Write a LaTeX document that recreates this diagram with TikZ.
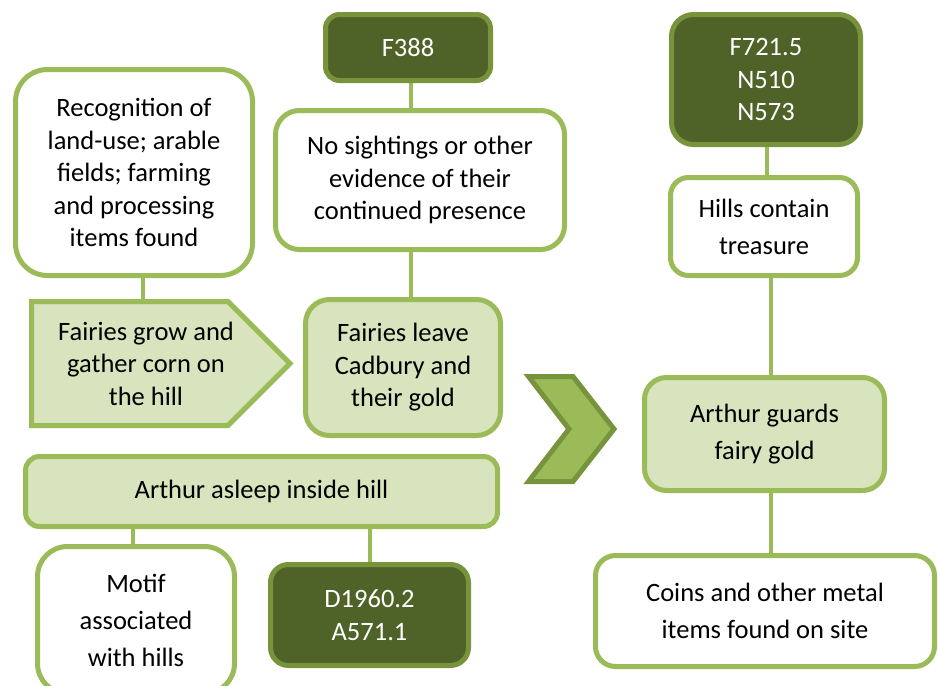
\documentclass[tikz,border=0pt]{standalone}
\usepackage{fontspec}
\setmainfont{Carlito}
\definecolor{lgfill}{HTML}{D7E4BD}
\definecolor{lgline}{HTML}{9BBB59}
\definecolor{dkfill}{HTML}{4F6228}
\definecolor{dkline}{HTML}{77933C}
\pgfdeclarelayer{bg}
\pgfdeclarelayer{paper}
\pgfsetlayers{paper,bg,main}
\begin{document}
\begin{tikzpicture}[x=1pt,y=-1pt,
  base/.style={line width=5pt, align=center, inner sep=2pt, font=\fontsize{26.5}{32.5}\selectfont},
  whitebox/.style={base, draw=lgline, fill=white},
  lightbox/.style={base, draw=lgline, fill=lgfill},
  darkbox/.style={base, draw=dkline, fill=dkfill, text=white},
  wide/.style={font=\fontsize{26.5}{37}\selectfont},
  conn/.style={draw=lgline, line width=4pt, shorten <=-3pt, shorten >=-3pt}
]
\begin{pgfonlayer}{paper}
\fill[white] (0,0) rectangle (938,686);
\end{pgfonlayer}
\useasboundingbox (0,0) rectangle (938,686);

% left column
\node[whitebox, minimum width=237pt, minimum height=206pt, rounded corners=32pt] (rec) at (134,172.5)
  {Recognition of\\land-use; arable\\fields; farming\\and processing\\items found};
\draw[line width=5pt, draw=lgline, fill=lgfill, line join=miter]
  (31.5,301.5) -- (228,301.5) -- (290,363.5) -- (228,425.5) -- (31.5,425.5) -- cycle;
\node[base, minimum height=124pt] (pent) at (146,363.5) {Fairies grow and\\gather corn on\\the hill};

% middle column
\node[darkbox, minimum width=165pt, minimum height=66pt, rounded corners=14pt] (f388) at (408,47.5) {F388};
\node[whitebox, minimum width=289pt, minimum height=139pt, rounded corners=24pt] (nosight) at (420,180)
  {No sightings or other\\evidence of their\\continued presence};
\node[lightbox, minimum width=195pt, minimum height=136pt, rounded corners=24pt] (leave) at (403,367.5)
  {Fairies leave\\Cadbury and\\their gold};

% chevron
\draw[line width=5pt, draw=dkline, fill=lgline, line join=miter]
  (528.5,376.5) -- (573,376.5) -- (614,429) -- (573,481.5) -- (528.5,481.5) -- (569,429) -- cycle;

% bottom left
\node[lightbox, minimum width=472pt, minimum height=70pt, rounded corners=14pt] (asleep) at (261.5,491.5)
  {Arthur asleep inside hill};
\node[whitebox, wide, minimum width=197pt, minimum height=147pt, rounded corners=30pt] (motif) at (136,620)
  {Motif\\associated\\with hills};
\node[darkbox, minimum width=198pt, minimum height=101pt, rounded corners=18pt] (d1960) at (369.5,615)
  {D1960.2\\A571.1};

% right column
\node[darkbox, minimum width=189pt, minimum height=130pt, rounded corners=22pt] (f721) at (766,79.5)
  {F721.5\\N510\\N573};
\node[whitebox, wide, minimum width=187pt, minimum height=98pt, rounded corners=18pt] (hills) at (764,226.5)
  {Hills contain\\treasure};
\node[lightbox, wide, minimum width=240pt, minimum height=113pt, rounded corners=22pt] (guards) at (764.5,434)
  {Arthur guards\\fairy gold};
\node[whitebox, wide, minimum width=339pt, minimum height=111pt, rounded corners=20pt] (coins) at (765,611)
  {Coins and other metal\\items found on site};

% connector anchor points
\coordinate (c1) at ([xshift=9pt]rec.south);
\coordinate (c2) at ([xshift=3pt]f388.south);
\coordinate (c3) at ([xshift=-9pt]nosight.south);
\coordinate (c4) at ([xshift=-3pt]motif.north);
\coordinate (c5) at ([xshift=1pt]f721.south);
\coordinate (c6) at ([xshift=7pt]hills.south);
\coordinate (c7) at ([xshift=6.5pt]guards.south);

\begin{pgfonlayer}{bg}
\draw[conn] (c1) -- (c1 |- pent.north);
\draw[conn] (c2) -- (c2 |- nosight.north);
\draw[conn] (c3) -- (c3 |- leave.north);
\draw[conn] (c4 |- asleep.south) -- (c4);
\draw[conn] (d1960.north |- asleep.south) -- (d1960.north);
\draw[conn] (c5) -- (c5 |- hills.north);
\draw[conn] (c6) -- (c6 |- guards.north);
\draw[conn] (c7) -- (c7 |- coins.north);
\end{pgfonlayer}
\end{tikzpicture}
\end{document}
